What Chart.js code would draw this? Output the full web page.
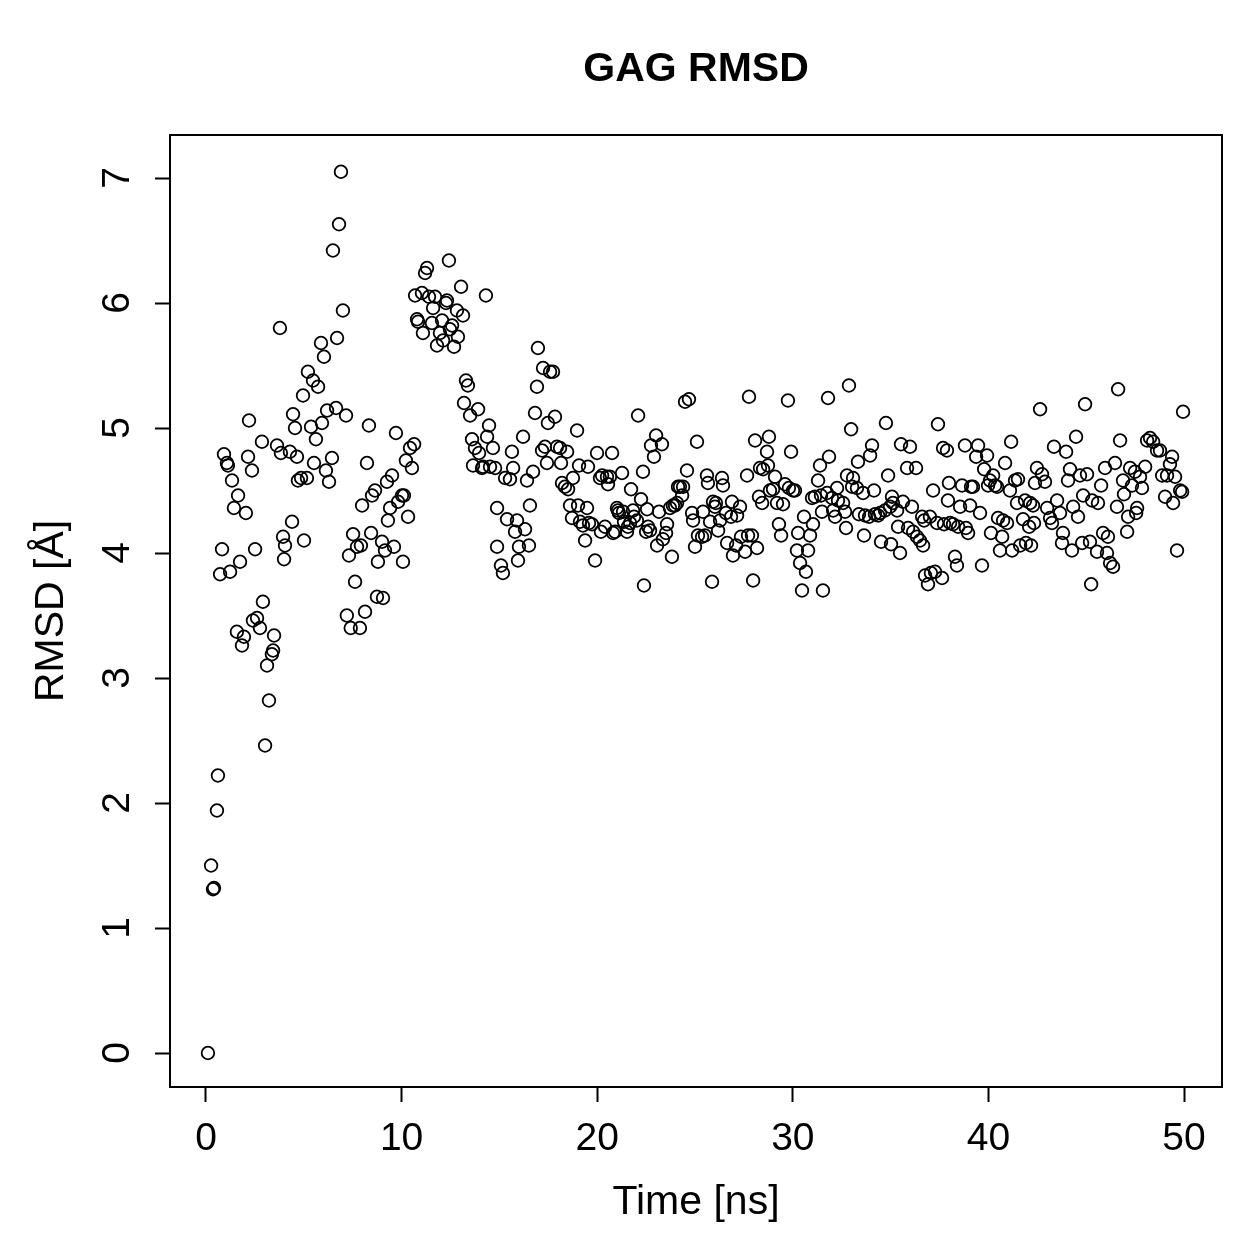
<!DOCTYPE html>
<html>
<head>
<meta charset="utf-8">
<script src="https://cdn.jsdelivr.net/npm/chart.js@4.4.1/dist/chart.umd.min.js"></script>
<style>
  html, body { margin: 0; padding: 0; background: #fff; }
  canvas { display: block; }
</style>
</head>
<body>
<canvas id="rmsdChart" width="1259" height="1259"></canvas>
<script>
const chartTitle = 'GAG RMSD';
const xTitle = 'Time [ns]';
const yTitle = 'RMSD [Å]';
const xTicks = [0, 10, 20, 30, 40, 50];
const yTicks = [0, 1, 2, 3, 4, 5, 6, 7];

// values
const timeNs = [
  0.10,0.26,0.36,0.41,0.56,0.61,0.72,0.82,0.92,1.07,
  1.12,1.23,1.33,1.43,1.58,1.64,1.74,1.84,1.94,2.04,
  2.15,2.20,2.35,2.40,2.51,2.61,2.76,2.86,2.91,3.02,
  3.12,3.22,3.37,3.43,3.48,3.63,3.78,3.83,3.94,3.99,
  4.04,4.29,4.40,4.45,4.55,4.65,4.70,4.86,4.96,5.01,
  5.16,5.21,5.37,5.47,5.52,5.62,5.73,5.88,5.93,6.03,
  6.13,6.19,6.29,6.44,6.49,6.65,6.70,6.80,6.90,7.00,
  7.16,7.20,7.31,7.40,7.52,7.62,7.72,7.87,7.92,7.98,
  8.13,8.23,8.33,8.44,8.49,8.64,8.74,8.79,9.00,9.05,
  9.15,9.25,9.30,9.41,9.51,9.61,9.71,9.82,10.02,10.07,
  10.12,10.22,10.33,10.43,10.53,10.64,10.69,10.79,10.84,11.04,
  11.09,11.20,11.30,11.40,11.55,11.61,11.71,11.81,11.96,12.07,
  12.12,12.27,12.32,12.42,12.47,12.58,12.68,12.83,12.88,13.04,
  13.14,13.19,13.29,13.39,13.50,13.60,13.65,13.75,13.91,13.96,
  14.11,14.16,14.31,14.37,14.47,14.52,14.67,14.78,14.88,14.88,
  15.08,15.18,15.29,15.39,15.54,15.64,15.70,15.80,15.90,15.95,
  16.00,16.21,16.31,16.41,16.51,16.56,16.72,16.82,16.92,16.97,
  17.18,17.23,17.33,17.43,17.48,17.59,17.74,17.84,17.94,18.10,
  18.15,18.20,18.35,18.46,18.51,18.61,18.71,18.76,18.97,19.02,
  19.07,19.12,19.27,19.38,19.48,19.53,19.58,19.73,19.89,19.99,
  20.14,20.19,20.25,20.40,20.50,20.55,20.65,20.76,20.81,20.91,
  21.01,21.06,21.11,21.27,21.32,21.37,21.52,21.57,21.68,21.73,
  21.83,21.88,22.03,22.09,22.24,22.34,22.39,22.50,22.55,22.60,
  22.70,22.75,22.90,23.01,23.06,23.16,23.31,23.36,23.52,23.57,
  23.72,23.82,23.87,23.98,24.08,24.13,24.23,24.34,24.39,24.49,
  24.59,24.69,24.85,24.90,25.00,
  25.10,25.15,25.36,25.41,25.51,25.61,25.66,25.77,25.87,25.92,
  26.02,26.07,26.18,26.28,26.38,26.43,26.58,26.64,26.84,26.89,
  26.94,27.10,27.15,27.30,27.35,27.56,27.66,27.71,27.76,27.91,
  27.97,28.07,28.17,28.27,28.32,28.43,28.48,28.68,28.73,28.78,
  28.83,28.99,29.09,29.19,29.29,29.40,29.50,29.60,29.75,29.80,
  29.91,
  30.01,30.11,30.21,30.27,30.37,30.47,30.57,30.67,30.78,30.88,
  30.98,31.03,31.13,31.29,31.39,31.44,31.49,31.54,31.75,31.80,
  31.85,32.00,32.06,32.16,32.26,32.31,32.57,32.67,32.72,32.77,
  32.87,32.98,33.03,33.08,33.28,33.33,33.38,33.59,33.64,33.69,
  33.90,33.95,34.05,34.15,34.20,34.36,34.46,34.51,34.71,34.76,
  34.87,34.97,
  35.02,35.07,35.12,35.33,35.38,35.48,35.53,35.63,35.84,35.89,
  35.99,36.09,36.15,36.30,36.35,36.50,36.61,36.66,36.71,36.76,
  36.91,37.01,37.06,37.17,37.27,37.37,37.42,37.63,37.68,37.73,
  37.88,37.93,37.98,38.04,38.19,38.29,38.39,38.45,38.55,38.65,
  38.80,38.85,38.96,39.06,39.11,39.21,39.37,39.47,39.57,39.67,
  39.78,39.93,39.98,
  40.08,40.13,40.24,40.34,40.44,40.49,40.59,40.70,40.75,40.85,
  40.95,41.10,41.16,41.21,41.36,41.46,41.51,41.62,41.77,41.87,
  41.92,42.08,42.13,42.18,42.28,42.33,42.38,42.48,42.64,42.74,
  42.89,43.00,43.15,43.25,43.35,43.51,43.66,43.76,43.81,43.97,
  44.07,44.17,44.27,44.33,44.48,44.58,44.68,44.79,44.84,44.94,
  45.04,45.19,45.25,45.30,45.55,45.60,45.76,45.86,45.96,46.06,
  46.11,46.22,46.37,46.47,46.57,46.63,46.73,46.88,46.93,47.09,
  47.14,47.24,47.34,47.49,47.55,47.60,47.75,47.85,48.01,48.11,
  48.26,48.42,48.62,48.77,48.88,49.03,49.13,49.28,49.39,49.44,
  49.54,49.64,49.80,49.90,49.95
];
const rmsd = [
  0.00,1.50,1.31,1.32,1.94,2.22,3.83,4.03,4.79,4.72,
  4.70,3.85,4.58,4.36,3.37,4.46,3.93,3.26,3.33,4.32,
  4.77,5.06,4.66,3.46,4.03,3.48,3.40,4.89,3.61,2.46,
  3.10,2.82,3.19,3.22,3.34,4.86,5.80,4.80,4.13,3.95,
  4.06,4.81,4.25,5.11,5.00,4.77,4.58,4.60,5.26,4.10,
  4.60,5.45,5.01,5.38,4.72,4.91,5.33,5.68,5.04,5.57,
  4.66,5.14,4.57,4.76,6.42,5.16,5.72,6.63,7.05,5.94,
  5.10,3.50,3.98,3.40,4.15,3.77,4.05,3.40,4.06,4.38,
  3.53,4.72,5.02,4.16,4.46,4.50,3.65,3.93,4.09,3.64,
  4.02,4.57,4.26,4.36,4.62,4.05,4.96,4.41,4.46,3.93,
  4.46,4.74,4.29,4.84,4.68,4.87,6.06,5.87,5.85,6.08,
  5.76,6.24,6.28,6.05,5.84,5.96,6.05,5.66,5.76,5.86,
  5.70,6.00,6.02,6.34,5.79,5.82,5.65,5.94,5.73,6.13,
  5.90,5.20,5.38,5.34,5.10,4.91,4.70,4.84,5.15,4.80,
  4.68,4.69,6.06,4.93,5.02,4.69,4.84,4.68,4.36,4.05,
  3.90,3.84,4.60,4.27,4.59,4.81,4.68,4.17,4.26,3.94,
  4.05,4.93,4.19,4.58,4.06,4.38,4.65,5.12,5.33,5.64,
  4.82,5.48,4.85,4.72,5.04,5.45,5.45,5.09,4.85,4.84,
  4.72,4.56,4.53,4.81,4.51,4.38,4.28,4.60,4.98,4.38,
  4.70,4.25,4.22,4.10,4.36,4.69,4.24,4.23,3.94,4.80,
  4.60,4.17,4.62,4.21,4.61,4.55,4.61,4.80,4.16,4.17,
  4.36,4.34,4.32,4.64,4.33,4.25,4.17,4.21,4.24,4.51,
  4.34,4.29,4.26,5.10,4.43,4.65,3.74,4.17,4.35,4.21,
  4.18,4.86,4.77,4.94,4.06,4.33,4.87,4.11,4.16,4.23,
  4.36,3.97,4.38,4.38,4.40,4.53,4.53,4.46,4.53,5.21,
  4.66,5.23,4.32,4.26,4.05,
  4.89,4.14,4.13,4.33,4.14,4.62,4.56,4.25,3.77,4.41,
  4.37,4.40,4.18,4.26,4.60,4.54,4.32,4.08,4.29,4.41,
  3.98,4.06,4.30,4.37,4.13,4.01,4.62,4.14,5.25,4.14,
  3.78,4.90,4.04,4.45,4.68,4.40,4.67,4.81,4.70,4.93,
  4.50,4.51,4.61,4.40,4.23,4.14,4.39,4.55,5.22,4.52,
  4.81,
  4.50,4.50,4.02,4.16,3.92,3.70,4.29,3.85,4.02,4.14,
  4.44,4.23,4.45,4.58,4.70,4.46,4.33,3.70,4.48,5.24,
  4.77,4.44,4.34,4.29,4.52,4.42,4.40,4.33,4.20,4.62,
  5.34,4.99,4.53,4.60,4.52,4.73,4.31,4.48,4.14,4.30,
  4.29,4.78,4.86,4.50,4.31,4.30,4.32,4.09,4.34,5.04,
  4.62,4.37,
  4.07,4.45,4.40,4.34,4.21,4.00,4.87,4.41,4.68,4.20,
  4.85,4.37,4.17,4.68,4.13,4.10,4.29,4.06,4.26,3.82,
  3.75,4.29,3.84,4.50,3.85,4.24,5.03,3.80,4.84,4.23,
  4.82,4.42,4.56,4.24,4.23,3.97,3.90,4.21,4.37,4.54,
  4.86,4.20,4.16,4.38,4.53,4.53,4.77,4.86,4.32,3.90,
  4.67,4.78,4.54,
  4.58,4.16,4.62,4.54,4.53,4.28,4.02,4.13,4.26,4.72,
  4.24,4.50,4.89,4.02,4.58,4.40,4.59,4.06,4.27,4.42,
  4.08,4.21,4.40,4.06,4.38,4.24,4.56,4.68,5.15,4.63,
  4.57,4.36,4.28,4.24,4.85,4.42,4.32,4.08,4.16,4.81,
  4.58,4.67,4.02,4.37,4.93,4.29,4.62,4.08,4.46,5.19,
  4.63,4.09,3.75,4.42,4.01,4.40,4.54,4.16,4.68,4.00,
  4.13,3.92,3.89,4.72,4.37,5.31,4.90,4.58,4.47,4.17,
  4.29,4.68,4.54,4.65,4.32,4.36,4.61,4.52,4.69,4.90,
  4.92,4.89,4.82,4.82,4.62,4.45,4.62,4.71,4.77,4.40,
  4.61,4.02,4.50,4.49,5.13
];

const FONT = '"Liberation Sans", Arial, Helvetica, sans-serif';

// R base-graphics look: full box, tick labels, titles
const rFrame = {
  id: 'rFrame',
  afterDraw(chart) {
    const { ctx, chartArea: a, scales: { x, y } } = chart;
    ctx.save();
    ctx.strokeStyle = '#000';
    ctx.lineWidth = 2;
    ctx.strokeRect(a.left, a.top, a.right - a.left, a.bottom - a.top);

    ctx.fillStyle = '#000';
    ctx.textAlign = 'center';
    ctx.textBaseline = 'middle';
    ctx.font = `39px ${FONT}`;
    x.ticks.forEach(t => ctx.fillText(String(t.value), x.getPixelForValue(t.value), 1139));
    y.ticks.forEach(t => {
      ctx.save();
      ctx.translate(118, y.getPixelForValue(t.value));
      ctx.rotate(-Math.PI / 2);
      ctx.fillText(String(t.value), 0, 0);
      ctx.restore();
    });

    ctx.font = `41px ${FONT}`;
    ctx.fillText(xTitle, (a.left + a.right) / 2, 1203);
    ctx.save();
    ctx.translate(52, (a.top + a.bottom) / 2);
    ctx.rotate(-Math.PI / 2);
    ctx.fillText(yTitle, 0, 0);
    ctx.restore();

    ctx.font = `bold 41px ${FONT}`;
    ctx.fillText(chartTitle, (a.left + a.right) / 2, 70);
    ctx.restore();
  }
};

const tickGrid = {
  drawOnChartArea: false,
  drawTicks: true,
  tickLength: 15,
  tickWidth: 2,
  tickColor: '#000'
};

new Chart(document.getElementById('rmsdChart'), {
  type: 'scatter',
  data: {
    datasets: [{
      data: timeNs.map((t, i) => ({ x: t, y: rmsd[i] })),
      pointStyle: 'circle',
      pointRadius: 6.3,
      pointHoverRadius: 6.3,
      borderWidth: 1.8,
      borderColor: '#000',
      backgroundColor: 'rgba(0,0,0,0)'
    }]
  },
  options: {
    responsive: false,
    animation: false,
    devicePixelRatio: 1,
    layout: { autoPadding: false, padding: { top: 135, right: 37, bottom: 0, left: 0 } },
    plugins: { legend: { display: false }, tooltip: { enabled: false } },
    scales: {
      x: {
        type: 'linear',
        min: -1.84,
        max: 51.94,
        grid: tickGrid,
        border: { display: false },
        ticks: { display: false },
        afterBuildTicks: s => { s.ticks = xTicks.map(v => ({ value: v })); },
        afterFit: s => { s.height = 172; }
      },
      y: {
        type: 'linear',
        min: -0.272,
        max: 7.344,
        grid: tickGrid,
        border: { display: false },
        ticks: { display: false },
        afterBuildTicks: s => { s.ticks = yTicks.map(v => ({ value: v })); },
        afterFit: s => { s.width = 170; }
      }
    }
  },
  plugins: [rFrame]
});
</script>
</body>
</html>
